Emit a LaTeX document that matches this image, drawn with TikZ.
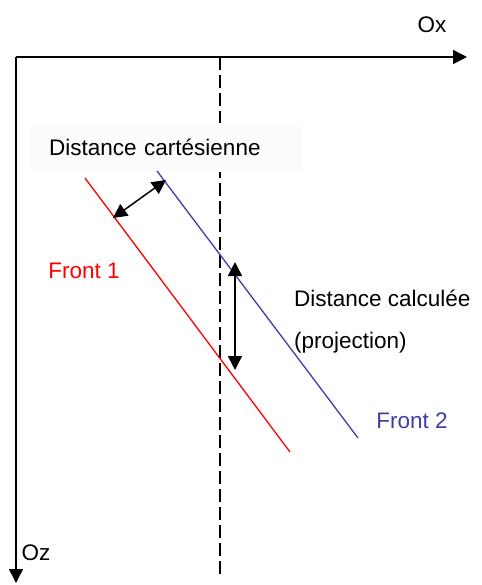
\documentclass[tikz,border=0pt]{standalone}
\usepackage{fontspec}
\setmainfont{Liberation Sans}
\usetikzlibrary{arrows.meta}
\definecolor{frontred}{RGB}{255,0,0}
\definecolor{frontblue}{RGB}{62,62,168}
\definecolor{boxgray}{RGB}{252,252,252}

\begin{document}
\begin{tikzpicture}[
  x=1pt, y=-1pt,
  every node/.style={font=\fontsize{22.5}{26}\selectfont},
  lbl/.style={inner sep=0pt},
  axis/.style={line width=1.5pt, -{Triangle[length=14pt,width=14pt]}},
  dist/.style={line width=1.5pt, {Triangle[length=14pt,width=14pt]}-{Triangle[length=14pt,width=14pt]}},
  front/.style={line width=1.3pt}
]
\useasboundingbox (0,0) rectangle (481,585);

% axes
\coordinate (O) at (16,57);
\coordinate (xend) at (467,57);
\coordinate (zend) at (16,583);
\draw[axis] (O) -- (xend);
\draw[axis] (O) -- (zend);
\node[lbl] (ox) at (432,25) {Ox};
\node[lbl] (oz) at (36,553) {Oz};

% vertical dashed line
\coordinate (vtop) at (220,57);
\coordinate (vbot) at (220,576);
\draw[line width=1.3pt, dash pattern=on 13pt off 5pt] (vtop) -- (vbot);

\node[lbl, fill=boxgray, anchor=north west, minimum height=49pt,
      text width=235pt, inner xsep=19pt, align=left] (cart) at (30,123) {Distance cartésienne};

% fronts
\coordinate (r1) at (85,178);
\coordinate (r2) at (290,452);
\coordinate (b1) at (157,171);
\coordinate (b2) at (358,438);
\draw[front, frontred] (r1) -- (r2);
\draw[front, frontblue] (b1) -- (b2);
\node[lbl, text=frontred] (f1) at (84,271) {Front 1};
\node[lbl, text=frontblue] (f2) at (412,421) {Front 2};

% distances
\coordinate (c1) at (113,218);
\coordinate (c2) at (166,180);
\draw[dist] (c1) -- (c2);
\coordinate (p1) at (235,262);
\coordinate (p2) at (235,370);
\draw[dist] (p1) -- (p2);
\node[lbl, anchor=west] (calc) at (294,298) {Distance calculée};
\node[lbl, anchor=west] (proj) at (294,343) {(projection)};
\end{tikzpicture}
\end{document}
